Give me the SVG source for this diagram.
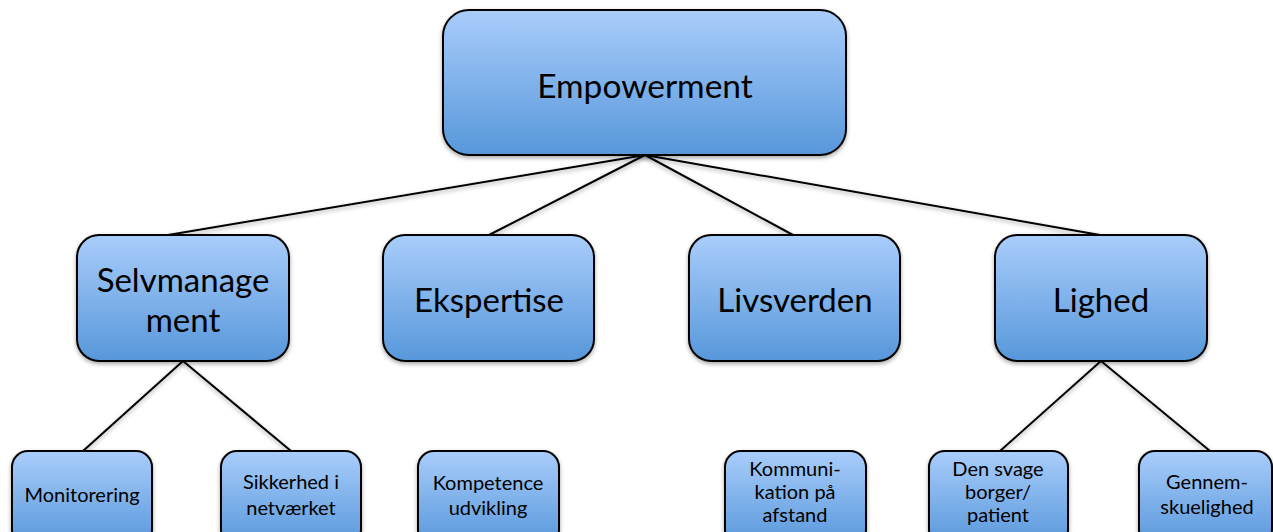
<svg xmlns="http://www.w3.org/2000/svg" width="1273" height="532" viewBox="0 0 1273 532">
  <defs>
    <linearGradient id="boxFill" x1="0" y1="0" x2="0" y2="1">
      <stop offset="0" stop-color="#A9CDFB"/>
      <stop offset="1" stop-color="#5797DA"/>
    </linearGradient>
    <filter id="shadow" x="-10%" y="-10%" width="120%" height="130%">
      <feDropShadow dx="0" dy="2" stdDeviation="2" flood-color="#000" flood-opacity="0.35"/>
    </filter>
  </defs>
  <style>
    .box { fill: url(#boxFill); stroke: #000; stroke-width: 2; filter: url(#shadow); }
    .link { stroke: #000; stroke-width: 2; fill: none; filter: url(#shadow); }
    text { font-family: "Lato", "Liberation Sans", sans-serif; fill: #000; text-anchor: middle; }
    .t1 { font-size: 33.5px; }
    .t2 { font-size: 33px; }
    .t3 { font-size: 20px; }
  </style>

  <rect width="1273" height="532" fill="#fff"/>

  <!-- connectors -->
  <g id="connectors">
    <line class="link" x1="645" y1="155" x2="168" y2="235"/>
    <line class="link" x1="645" y1="155" x2="489" y2="235"/>
    <line class="link" x1="645" y1="155" x2="793" y2="235"/>
    <line class="link" x1="645" y1="155" x2="1100" y2="235"/>
    <line class="link" x1="183" y1="361" x2="83" y2="451"/>
    <line class="link" x1="183" y1="361" x2="291" y2="451"/>
    <line class="link" x1="489" y1="361" x2="489" y2="451"/>
    <line class="link" x1="795" y1="361" x2="795" y2="451"/>
    <line class="link" x1="1101" y1="361" x2="1000" y2="451"/>
    <line class="link" x1="1101" y1="361" x2="1210" y2="451"/>
  </g>

  <!-- root -->
  <g id="empowerment">
    <rect class="box" x="443" y="10" width="403" height="145" rx="26"/>
    <text class="t1" x="645" y="98">Empowerment</text>
  </g>

  <!-- second level -->
  <g id="selvmanagement">
    <rect class="box" x="77" y="235" width="212" height="126" rx="22"/>
    <text class="t2" x="183" y="292">Selvmanage</text>
    <text class="t2" x="183" y="332">ment</text>
  </g>
  <g id="ekspertise">
    <rect class="box" x="383" y="235" width="211" height="126" rx="22"/>
    <text class="t2" x="489" y="312">Ekspertise</text>
  </g>
  <g id="livsverden">
    <rect class="box" x="689" y="235" width="211" height="126" rx="22"/>
    <text class="t2" x="795" y="312">Livsverden</text>
  </g>
  <g id="lighed">
    <rect class="box" x="995" y="235" width="212" height="126" rx="22"/>
    <text class="t2" x="1101" y="312">Lighed</text>
  </g>

  <!-- third level -->
  <g id="monitorering">
    <rect class="box" x="12" y="451" width="140" height="95" rx="16"/>
    <text class="t3" x="82" y="502">Monitorering</text>
  </g>
  <g id="sikkerhed">
    <rect class="box" x="221" y="451" width="140" height="95" rx="16"/>
    <text class="t3" x="291" y="489">Sikkerhed i</text>
    <text class="t3" x="291" y="515">netværket</text>
  </g>
  <g id="kompetence">
    <rect class="box" x="418" y="451" width="141" height="95" rx="16"/>
    <text class="t3" x="488" y="490">Kompetence</text>
    <text class="t3" x="488" y="515">udvikling</text>
  </g>
  <g id="kommunikation">
    <rect class="box" x="725" y="451" width="141" height="95" rx="16"/>
    <text class="t3" x="795" y="476">Kommuni-</text>
    <text class="t3" x="795" y="499">kation på</text>
    <text class="t3" x="795" y="522">afstand</text>
  </g>
  <g id="den-svage">
    <rect class="box" x="929" y="451" width="139" height="95" rx="16"/>
    <text class="t3" x="998" y="476">Den svage</text>
    <text class="t3" x="998" y="499">borger/</text>
    <text class="t3" x="998" y="522">patient</text>
  </g>
  <g id="gennemskuelighed">
    <rect class="box" x="1139" y="451" width="133" height="95" rx="16"/>
    <text class="t3" x="1207" y="489">Gennem-</text>
    <text class="t3" x="1207" y="514">skuelighed</text>
  </g>
</svg>
